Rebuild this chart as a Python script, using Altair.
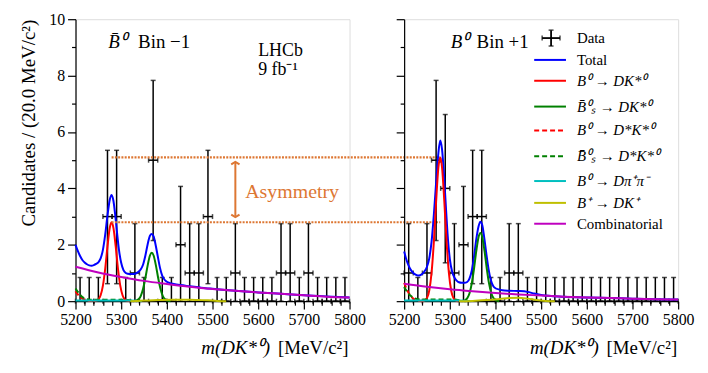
import altair as alt
import pandas as pd

# ---------------- values ----------------
BIN_CENTERS = list(range(5210, 5800, 20))
COUNTS_LEFT = [0, 0, 0, 3, 3, 0, 1, 0, 5, 0, 0, 2, 1, 1, 3, 0, 0, 1, 0, 0, 0, 0, 1, 1, 0, 1, 0, 0, 0, 0]
COUNTS_RIGHT = [1, 0, 1, 5, 4, 1, 2, 3, 3, 0, 0, 1, 1, 0, 0, 0, 0, 0, 0, 0, 0, 0, 0, 0, 0, 0, 0, 0, 0, 0]
# error bar extent (up / down) for a bin with n entries
ERR_UP = [0.84, 1.75, 2.07, 2.35, 2.62, 2.83]
ERR_DN = [0.0, 1.0, 2.0, 2.38, 2.64, 2.85]

TOTAL_X = [5200, 5205, 5210, 5215, 5220, 5225, 5230, 5235, 5240, 5245, 5250, 5255, 5260, 5265,
           5270, 5275, 5279, 5283, 5287, 5291, 5295, 5300, 5305, 5310, 5315, 5320, 5326, 5332,
           5338, 5343, 5348, 5353, 5358, 5363, 5367, 5371, 5375, 5380, 5385, 5390, 5395, 5400,
           5407, 5415, 5430, 5450, 5470, 5485, 5500, 5550, 5600, 5650, 5700, 5750, 5800]
TOTAL_LEFT = [2.00, 1.78, 1.60, 1.46, 1.37, 1.31, 1.27, 1.26, 1.28, 1.32, 1.38, 1.52, 1.82, 2.36,
              3.04, 3.60, 3.77, 3.56, 3.05, 2.42, 1.84, 1.36, 1.10, 1.00, 0.97, 0.96, 0.96, 0.98,
              1.04, 1.13, 1.30, 1.62, 2.02, 2.32, 2.38, 2.30, 2.03, 1.60, 1.18, 0.90, 0.76, 0.69,
              0.64, 0.61, 0.57, 0.53, 0.49, 0.46, 0.44, 0.37, 0.31, 0.26, 0.21, 0.17, 0.13]
TOTAL_RIGHT = [1.76, 1.47, 1.25, 1.10, 1.00, 0.94, 0.91, 0.92, 0.97, 1.07, 1.22, 1.52, 2.10, 3.05,
               4.20, 5.25, 5.70, 5.38, 4.55, 3.45, 2.40, 1.50, 1.05, 0.84, 0.73, 0.67, 0.65, 0.65,
               0.68, 0.80, 1.08, 1.57, 2.20, 2.66, 2.82, 2.70, 2.30, 1.68, 1.12, 0.74, 0.54, 0.46,
               0.42, 0.39, 0.37, 0.36, 0.33, 0.27, 0.22, 0.16, 0.13, 0.11, 0.09, 0.07, 0.06]

SIG_B0_X = [5239, 5244, 5250, 5255, 5260, 5265, 5270, 5275, 5279, 5283, 5288, 5293, 5298, 5303, 5308, 5314, 5319]
SIG_B0_LEFT = [0, 0.01, 0.06, 0.21, 0.55, 1.15, 1.94, 2.60, 2.80, 2.60, 1.94, 1.15, 0.55, 0.21, 0.06, 0.01, 0]
SIG_B0_RIGHT = [0, 0.02, 0.11, 0.38, 1.00, 2.09, 3.53, 4.74, 5.10, 4.74, 3.53, 2.09, 1.00, 0.38, 0.11, 0.02, 0]

SIG_BS_X = [5326, 5332, 5338, 5343, 5348, 5353, 5358, 5363, 5367, 5371, 5376, 5381, 5386, 5391, 5396, 5402, 5408]
SIG_BS_LEFT = [0, 0.02, 0.07, 0.19, 0.44, 0.82, 1.27, 1.62, 1.72, 1.62, 1.27, 0.82, 0.44, 0.19, 0.07, 0.02, 0]
SIG_BS_RIGHT = [0, 0.02, 0.10, 0.27, 0.62, 1.15, 1.78, 2.28, 2.42, 2.28, 1.78, 1.15, 0.62, 0.27, 0.10, 0.02, 0]

PR_B0_X = [5200, 5205, 5210, 5215, 5220, 5225, 5230, 5240]
PR_B0_LEFT = [0.35, 0.24, 0.15, 0.09, 0.05, 0.02, 0.01, 0]
PR_B0_RIGHT = [0.65, 0.45, 0.29, 0.17, 0.09, 0.04, 0.02, 0]

PR_BS_X = [5200, 5205, 5210, 5215, 5220, 5225, 5230, 5240, 5260, 5280, 5300, 5315, 5325, 5335]
PR_BS_LEFT = [0.45, 0.33, 0.23, 0.15, 0.10, 0.07, 0.06, 0.05, 0.05, 0.05, 0.05, 0.04, 0.02, 0]
PR_BS_RIGHT = [0.50, 0.37, 0.26, 0.18, 0.12, 0.09, 0.07, 0.06, 0.06, 0.06, 0.06, 0.05, 0.02, 0]

DPP_X = [5200, 5250, 5300, 5320, 5335, 5345]
DPP_LEFT = [0.02, 0.02, 0.02, 0.02, 0.01, 0]
DPP_RIGHT = [0.02, 0.02, 0.02, 0.02, 0.01, 0]

DK_X = [5320, 5350, 5380, 5410, 5430, 5450, 5470, 5490, 5510, 5530]
DK_LEFT = [0, 0.02, 0.04, 0.05, 0.05, 0.05, 0.04, 0.03, 0.01, 0]
DK_RIGHT = [0, 0.01, 0.04, 0.08, 0.11, 0.12, 0.09, 0.04, 0.01, 0]

COMB_X = [5200, 5250, 5300, 5350, 5400, 5450, 5500, 5550, 5600, 5650, 5700, 5750, 5800]
COMB_LEFT = [1.22, 1.02, 0.86, 0.72, 0.61, 0.51, 0.43, 0.37, 0.31, 0.26, 0.21, 0.16, 0.13]
COMB_RIGHT = [0.62, 0.51, 0.42, 0.35, 0.29, 0.24, 0.20, 0.16, 0.13, 0.11, 0.09, 0.07, 0.06]

# asymmetry annotation: B0 peak heights of the two panels
ASYM_LEVELS = [5.1, 2.8]
ASYM_PEAK = 5279
ARROW_X = 5550
ARROW_Y = [2.98, 4.94]

LEG_LABELS = ["Data", "Total", "B⁰ → DK*⁰", "B̄⁰ₛ → DK*⁰", "B⁰ → D*K*⁰", "B̄⁰ₛ → D*K*⁰",
              "B⁰ → Dπ⁺π⁻", "B⁺ → DK⁺", "Combinatorial"]
XT_MATH, XT_UNIT = "m(DK*⁰)", "[MeV/c²]"
YTITLE = "Candidates / (20.0 MeV/c²)"

# ---------------- styles / layout ----------------
FONT = "Liberation Serif"
W, H = 276, 284
SPACING = 55
XMIN, XMAX, YMAX = 5200, 5800, 10
ORANGE = "#dd7733"
C_TOTAL, C_B0, C_BS, C_DPP, C_DK, C_COMB = "#0000ff", "#ff0000", "#008000", "#00bfbf", "#bfbf00", "#bf00bf"
LEG_COLORS = ["black", C_TOTAL, C_B0, C_BS, C_B0, C_BS, C_DPP, C_DK, C_COMB]
LEG_DASHED = [False, False, False, False, True, True, False, False, False]
LEG_ITALIC = [False, False, True, True, True, True, True, True, False]
LEG_Y_PX = [19, 41, 62, 88, 112, 138, 163, 185, 206]
LEG_LINE_PX = (131, 163)
LEG_TEXT_PX = 174
LEG_FONT_SIZE = 15

XSCALE = alt.Scale(domain=[XMIN, XMAX], nice=False, zero=False)
YSCALE = alt.Scale(domain=[0, YMAX], nice=False)

common_axis = dict(labelFont=FONT, labelFontSize=16, labelColor="black", labelFlush=False,
                   labelOverlap=False, labelPadding=3, domainColor="black", domainWidth=1.2,
                   tickColor="black", tickWidth=1.2, grid=False, titleFont=FONT, titleFontSize=19,
                   titleFontWeight="normal", titleColor="black")

XAXIS = alt.Axis(values=list(range(5200, 5801, 20)), format="d",
                 labelExpr="datum.value % 100 === 0 ? datum.label : ''",
                 tickSize={"condition": {"test": "datum.value % 100 === 0", "value": 8}, "value": 4},
                 title=None, **common_axis)


def yaxis(show_labels):
    kw = dict(values=[i * 0.5 for i in range(21)], format="d",
              tickSize={"condition": {"test": "datum.value % 2 === 0", "value": 8}, "value": 4},
              **common_axis)
    if show_labels:
        return alt.Axis(labelExpr="datum.value % 2 === 0 ? datum.label : ''",
                        title=YTITLE, titleAnchor="end", titlePadding=10, **kw)
    return alt.Axis(labels=False, title=None, **kw)


def px2x(p):
    return XMIN + p * (XMAX - XMIN) / W


def px2y(p):
    return YMAX - p * YMAX / H


def X(f, ax):
    return alt.X(f, type="quantitative", scale=XSCALE, axis=ax)


def Y(f, ax):
    return alt.Y(f, type="quantitative", scale=YSCALE, axis=ax)


def data_layers(counts, yax):
    df = pd.DataFrame({"x": BIN_CENTERS, "n": counts})
    df["hi"] = [n + ERR_UP[n] for n in counts]
    df["lo"] = [max(0.0, n - ERR_DN[n]) for n in counts]
    df["xlo"] = df["x"] - 10
    df["xhi"] = df["x"] + 10
    b = alt.Chart(df)
    return [
        b.mark_rule(color="black", strokeWidth=1.5).encode(x=X("x", XAXIS), y=Y("lo", yax), y2="hi"),
        b.mark_rule(color="black", strokeWidth=1.5).encode(x=X("xlo", XAXIS), x2="xhi", y=Y("n", yax)),
        b.mark_tick(color="black", orient="horizontal", size=5, thickness=1.5).encode(x=X("x", XAXIS), y=Y("hi", yax)),
        b.mark_tick(color="black", orient="horizontal", size=5, thickness=1.5).encode(x=X("x", XAXIS), y=Y("lo", yax)),
        b.mark_tick(color="black", orient="vertical", size=5, thickness=1.5).encode(x=X("xlo", XAXIS), y=Y("n", yax)),
        b.mark_tick(color="black", orient="vertical", size=5, thickness=1.5).encode(x=X("xhi", XAXIS), y=Y("n", yax)),
    ]


def curve(xs, ys, color, yax, dash=None):
    df = pd.DataFrame({"x": xs, "y": ys})
    kw = dict(color=color, strokeWidth=2, interpolate="monotone")
    if dash:
        kw["strokeDash"] = dash
    return alt.Chart(df).mark_line(**kw).encode(x=X("x", XAXIS), y=Y("y", yax))


def curves(side, yax):
    L = side == "left"
    return [
        curve(TOTAL_X, TOTAL_LEFT if L else TOTAL_RIGHT, C_TOTAL, yax),
        curve(SIG_B0_X, SIG_B0_LEFT if L else SIG_B0_RIGHT, C_B0, yax),
        curve(SIG_BS_X, SIG_BS_LEFT if L else SIG_BS_RIGHT, C_BS, yax),
        curve(PR_B0_X, PR_B0_LEFT if L else PR_B0_RIGHT, C_B0, yax, [5, 3]),
        curve(PR_BS_X, PR_BS_LEFT if L else PR_BS_RIGHT, C_BS, yax, [5, 3]),
        curve(DPP_X, DPP_LEFT if L else DPP_RIGHT, C_DPP, yax),
        curve(DK_X, DK_LEFT if L else DK_RIGHT, C_DK, yax),
        curve(COMB_X, COMB_LEFT if L else COMB_RIGHT, C_COMB, yax),
    ]


def text_px(t, xp, yp, size, color="black", style="normal", align="left", baseline="alphabetic"):
    return alt.Chart(pd.DataFrame({"t": [t]})).mark_text(
        font=FONT, fontSize=size, color=color, fontStyle=style, align=align, baseline=baseline
    ).encode(x=alt.value(xp), y=alt.value(yp), text="t:N")


def xtitle():
    return [text_px(XT_MATH, 196, H + 53, 19, style="italic", align="right"),
            text_px(XT_UNIT, W - 1, H + 53, 19, align="right")]


# ---------------- left panel ----------------
yl = yaxis(True)
gap_mev = SPACING * (XMAX - XMIN) / W
asym = pd.DataFrame({"y": ASYM_LEVELS, "x": ASYM_PEAK,
                     "x2": ASYM_PEAK + (XMAX - XMIN) + gap_mev})
asym_lines = alt.Chart(asym).mark_rule(color=ORANGE, strokeWidth=2.2, strokeDash=[2, 1.3], clip=False).encode(
    x=X("x", XAXIS), x2="x2", y=Y("y", yl))
arrow_df = pd.DataFrame({"x": [ARROW_X], "y": [ARROW_Y[0]], "y2": [ARROW_Y[1]]})
arrow_line = alt.Chart(arrow_df).mark_rule(color=ORANGE, strokeWidth=2).encode(
    x=X("x", XAXIS), y=Y("y", yl), y2="y2")
arrow_top = alt.Chart(arrow_df).mark_point(shape="M-1,0.6L0,0L1,0.6", filled=False, color=ORANGE,
                                           strokeWidth=2, size=70, opacity=1).encode(
    x=X("x", XAXIS), y=Y("y2", yl))
arrow_bot = alt.Chart(arrow_df).mark_point(shape="M-1,-0.6L0,0L1,-0.6", filled=False, color=ORANGE,
                                           strokeWidth=2, size=70, opacity=1).encode(
    x=X("x", XAXIS), y=Y("y", yl))

left = alt.layer(
    *data_layers(COUNTS_LEFT, yl),
    *curves("left", yl),
    asym_lines, arrow_line, arrow_top, arrow_bot,
    text_px("Asymmetry", 171, 180, 20, color=ORANGE),
    text_px("B̄⁰", 33, 29, 19, style="italic"),
    text_px("Bin −1", 63, 29, 19),
    text_px("LHCb", 184, 37, 18),
    text_px("9 fb⁻¹", 184, 56, 18),
    *xtitle(),
).properties(width=W, height=H)

# ---------------- right panel ----------------
yr = yaxis(False)
leg = pd.DataFrame({"label": LEG_LABELS, "color": LEG_COLORS, "dash": LEG_DASHED, "ital": LEG_ITALIC,
                    "y": [px2y(p) for p in LEG_Y_PX]})
leg["x1"] = px2x(LEG_LINE_PX[0])
leg["x2"] = px2x(LEG_LINE_PX[1])
leg["xt"] = px2x(LEG_TEXT_PX)
lines = leg.iloc[1:]
leg_solid = alt.Chart(lines[~lines["dash"]]).mark_rule(strokeWidth=2).encode(
    x=X("x1", XAXIS), x2="x2", y=Y("y", yr), color=alt.Color("color:N", scale=None))
leg_dash = alt.Chart(lines[lines["dash"]]).mark_rule(strokeWidth=2, strokeDash=[5, 3]).encode(
    x=X("x1", XAXIS), x2="x2", y=Y("y", yr), color=alt.Color("color:N", scale=None))
leg_txt_up = alt.Chart(leg[~leg["ital"]]).mark_text(font=FONT, fontSize=LEG_FONT_SIZE, align="left",
                                                     baseline="middle", color="black").encode(
    x=X("xt", XAXIS), y=Y("y", yr), text="label:N")
leg_txt_it = alt.Chart(leg[leg["ital"]]).mark_text(font=FONT, fontSize=LEG_FONT_SIZE, align="left",
                                                    baseline="middle", fontStyle="italic", color="black").encode(
    x=X("xt", XAXIS), y=Y("y", yr), text="label:N")
gx, gy = 148, LEG_Y_PX[0]
glyph = pd.DataFrame({"x": [px2x(gx)], "y": [px2y(gy)], "xl": [px2x(gx - 9)], "xr": [px2x(gx + 9)],
                      "yb": [px2y(gy + 8)], "yt": [px2y(gy - 8)]})
gb = alt.Chart(glyph)
glyph_layers = [
    gb.mark_rule(color="black", strokeWidth=1.8).encode(x=X("x", XAXIS), y=Y("yb", yr), y2="yt"),
    gb.mark_rule(color="black", strokeWidth=1.8).encode(x=X("xl", XAXIS), x2="xr", y=Y("y", yr)),
    gb.mark_tick(color="black", orient="horizontal", size=5, thickness=1.5).encode(x=X("x", XAXIS), y=Y("yt", yr)),
    gb.mark_tick(color="black", orient="horizontal", size=5, thickness=1.5).encode(x=X("x", XAXIS), y=Y("yb", yr)),
    gb.mark_tick(color="black", orient="vertical", size=5, thickness=1.5).encode(x=X("xl", XAXIS), y=Y("y", yr)),
    gb.mark_tick(color="black", orient="vertical", size=5, thickness=1.5).encode(x=X("xr", XAXIS), y=Y("y", yr)),
]

right = alt.layer(
    *data_layers(COUNTS_RIGHT, yr),
    *curves("right", yr),
    leg_solid, leg_dash, leg_txt_up, leg_txt_it, *glyph_layers,
    text_px("B⁰", 47, 29, 19, style="italic"),
    text_px("Bin +1", 73, 29, 19),
    *xtitle(),
).properties(width=W, height=H)

chart = alt.hconcat(left, right, spacing=SPACING).properties(
    bounds="flush", padding={"left": 11, "top": 1, "right": 5, "bottom": 5}
).configure_view(stroke="black", strokeWidth=1.2).configure(font=FONT, background="white")

chart.save("out.html", embed_options={"renderer": "svg", "actions": False})
